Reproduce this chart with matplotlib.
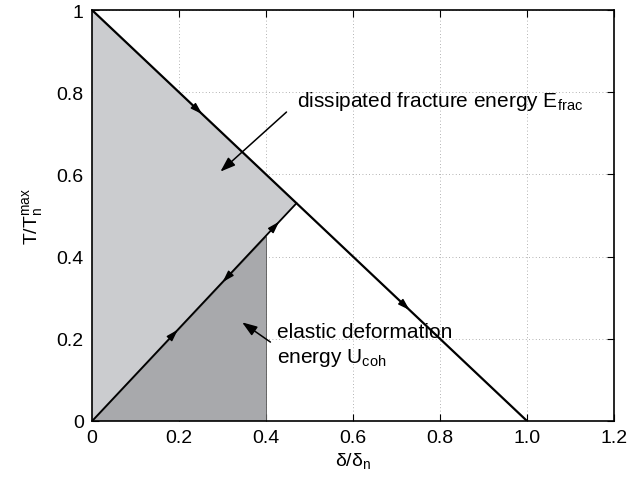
import matplotlib
matplotlib.use("Agg")
import matplotlib.pyplot as plt
import numpy as np

plt.rcParams['font.family'] = ['Liberation Sans', 'DejaVu Sans']
plt.rcParams['mathtext.fontset'] = 'custom'
plt.rcParams['mathtext.rm'] = 'Liberation Sans'
plt.rcParams['mathtext.it'] = 'Liberation Sans'

# traction-separation law (normalised)
softening_x = [0.0, 1.0]
softening_y = [1.0, 0.0]
peak = (0.47, 0.53)          # unloading / reloading point
unload_x = [0.0, peak[0]]
unload_y = [0.0, peak[1]]
elastic_end = 0.4            # dark region right edge

# direction arrows on the curves: (x, y, dx, dy)
line_arrows = [
    (0.253, 0.747, 1, -1),
    (0.73, 0.27, 1, -1),
    (0.197, 0.222, 0.47, 0.53),
    (0.43, 0.485, 0.47, 0.53),
    (0.30, 0.338, -0.47, -0.53),
]

xticks = [0, 0.2, 0.4, 0.6, 0.8, 1.0, 1.2]
xtick_labels = ['0', '0.2', '0.4', '0.6', '0.8', '1.0', '1.2']
yticks = [0, 0.2, 0.4, 0.6, 0.8, 1.0]
ytick_labels = ['0', '0.2', '0.4', '0.6', '0.8', '1']

light = '#cbcccf'
dark = '#a8a9ac'

fig = plt.figure(figsize=(6.31, 4.85), dpi=100)
ax = fig.add_axes([0.146, 0.13, 0.827, 0.847])

# grid
ax.grid(True, linestyle=(0, (1, 3)), color='#999999', linewidth=0.6)
ax.set_axisbelow(True)

# filled areas
ax.fill([0, 0, peak[0]], [0, 1, peak[1]], color=light, zorder=1.5, lw=0)
slope = peak[1] / peak[0]
ax.fill([0, elastic_end, elastic_end], [0, 0, slope * elastic_end],
        facecolor=dark, edgecolor='#555555', lw=0.6, zorder=1.6)

# curves
ax.plot(softening_x, softening_y, color='black', lw=1.6, zorder=3)
ax.plot(unload_x, unload_y, color='black', lw=1.3, zorder=3)

for x, y, dx, dy in line_arrows:
    n = np.hypot(dx, dy)
    d = 0.02
    ax.annotate('', xy=(x, y), xytext=(x - d * dx / n, y - d * dy / n),
                arrowprops=dict(arrowstyle='-|>,head_length=0.7,head_width=0.22',
                                color='black', lw=1.0, shrinkA=0, shrinkB=0),
                zorder=4)

# labels with pointers
arrow_kw = dict(arrowstyle='-|>,head_length=0.9,head_width=0.32',
                color='black', lw=1.1, shrinkA=0, shrinkB=0)
ax.annotate('', xy=(0.295, 0.607), xytext=(0.447, 0.752),
            arrowprops=arrow_kw, zorder=5)
ax.text(0.47, 0.78, r'dissipated fracture energy $\mathregular{E_{frac}}$',
        fontsize=15, va='center', ha='left', zorder=5)

ax.annotate('', xy=(0.345, 0.24), xytext=(0.41, 0.192),
            arrowprops=arrow_kw, zorder=5)
ax.text(0.425, 0.217, 'elastic deformation', fontsize=15, va='center',
        ha='left', zorder=5)
ax.text(0.425, 0.155, 'energy $\\mathregular{U_{coh}}$', fontsize=15,
        va='center', ha='left', zorder=5)

ax.set_xlim(0, 1.2)
ax.set_ylim(0, 1)
ax.set_xticks(xticks)
ax.set_xticklabels(xtick_labels)
ax.set_yticks(yticks)
ax.set_yticklabels(ytick_labels)
ax.tick_params(direction='in', top=True, right=True, labelsize=14, length=5,
               pad=6)
for s in ax.spines.values():
    s.set_linewidth(1.2)
    s.set_zorder(6)

ax.set_xlabel(r'$\mathregular{\delta/\delta_n}$', fontsize=14, labelpad=3)
ax.set_ylabel(r'$\mathregular{T/T_n^{max}}$', fontsize=14, labelpad=8)

fig.savefig('out.png', dpi=100)
